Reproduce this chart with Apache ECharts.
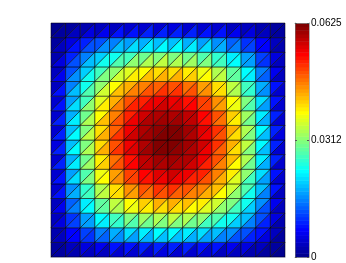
<!DOCTYPE html>
<html><head><meta charset="utf-8">
<script src="https://cdn.jsdelivr.net/npm/echarts@6/dist/echarts.min.js"></script>
<style>html,body{margin:0;padding:0;background:#fff}#c{width:346px;height:263px}</style>
</head><body><div id="c"></div>
<script>
// Node values of the 17x17 mesh (row = y from bottom, column = x from left)
const row0 = [0,0,0,0,0,0,0,0,0,0,0,0,0,0,0,0,0];
const row1 = [0,.00343,.00641,.00893,.01099,.01259,.01373,.01442,.01465,.01442,.01373,.01259,.01099,.00893,.00641,.00343,0];
const row2 = [0,.00641,.01196,.01666,.02051,.02350,.02563,.02692,.02734,.02692,.02563,.02350,.02051,.01666,.01196,.00641,0];
const row3 = [0,.00893,.01666,.02321,.02856,.03273,.03571,.03749,.03809,.03749,.03571,.03273,.02856,.02321,.01666,.00893,0];
const row4 = [0,.01099,.02051,.02856,.03516,.04028,.04395,.04614,.04688,.04614,.04395,.04028,.03516,.02856,.02051,.01099,0];
const row5 = [0,.01259,.02350,.03273,.04028,.04616,.05035,.05287,.05371,.05287,.05035,.04616,.04028,.03273,.02350,.01259,0];
const row6 = [0,.01373,.02563,.03571,.04395,.05035,.05493,.05768,.05859,.05768,.05493,.05035,.04395,.03571,.02563,.01373,0];
const row7 = [0,.01442,.02692,.03749,.04614,.05287,.05768,.06056,.06152,.06056,.05768,.05287,.04614,.03749,.02692,.01442,0];
const row8 = [0,.01465,.02734,.03809,.04688,.05371,.05859,.06152,.06250,.06152,.05859,.05371,.04688,.03809,.02734,.01465,0];
const nodeValues = [row0,row1,row2,row3,row4,row5,row6,row7,row8,row7,row6,row5,row4,row3,row2,row1,row0];

const colorMin = 0, colorMax = 0.0625;
const colorLevels = 64;
const colorbarTickValues = [0, 0.03125, 0.0625];
const colorbarTickLabels = ['0', '0.0312', '0.0625'];

function jet(m){
  const n = Math.ceil(m/4);
  const u = [];
  for(let i=1;i<=n;i++) u.push(i/n);
  for(let i=1;i<n;i++) u.push(1);
  for(let i=n;i>=1;i--) u.push(i/n);
  const g0 = Math.ceil(n/2) - (m%4===1?1:0);
  const cols = Array.from({length:m},()=>[0,0,0]);
  for(let k=0;k<u.length;k++){
    const g = g0 + k + 1, r = g + n, b = g - n;
    if(r>=1 && r<=m) cols[r-1][0]=u[k];
    if(g>=1 && g<=m) cols[g-1][1]=u[k];
    if(b>=1 && b<=m) cols[b-1][2]=u[k];
  }
  return cols.map(c=>'rgb('+c.map(v=>Math.round(v*255)).join(',')+')');
}
const cmap = jet(colorLevels);
const step = (colorMax-colorMin)/colorLevels;
const pieces = cmap.map((c,k)=> k===colorLevels-1
  ? {gte: colorMin+k*step, lte: colorMax+1, color:c}
  : {gte: colorMin+k*step, lt: colorMin+(k+1)*step, color:c});

const nCells = nodeValues.length-1;
const triData = [];
for(let j=0;j<nCells;j++) for(let i=0;i<nCells;i++){
  const v00=nodeValues[j][i], v10=nodeValues[j][i+1], v01=nodeValues[j+1][i], v11=nodeValues[j+1][i+1];
  triData.push([i, j, 0, (v00+v01+v11)/3]);
  triData.push([i, j, 1, (v00+v10+v11)/3]);
}
const barData = cmap.map((c,k)=>[k, colorMin+k*step, colorMin+(k+1)*step, colorMin+(k+0.5)*step]);

const font = 'Liberation Sans, Arial, Helvetica, sans-serif';
const chart = echarts.init(document.getElementById('c'), null, {renderer:'canvas'});
chart.setOption({
  animation:false,
  backgroundColor:'#fff',
  grid:[
    {left:51, top:23, width:234, height:234},
    {left:295, top:23, width:14, height:234}
  ],
  xAxis:[
    {gridIndex:0, type:'value', min:0, max:nCells, show:true, axisLine:{show:true, onZero:false, lineStyle:{color:'#a0a0b4', width:1}}, axisTick:{show:false}, axisLabel:{show:false}, splitLine:{show:false}, z:10},
    {gridIndex:1, type:'value', min:0, max:1, position:'bottom', axisLine:{show:true, onZero:false, lineStyle:{color:'#777', width:0.6}}, axisTick:{show:false}, axisLabel:{show:false}, splitLine:{show:false}, z:10},
    {gridIndex:1, type:'value', min:0, max:1, position:'top', axisLine:{show:true, onZero:false, lineStyle:{color:'#888', width:0.8}}, axisTick:{show:false}, axisLabel:{show:false}, splitLine:{show:false}, z:10}
  ],
  yAxis:[
    {gridIndex:0, type:'value', min:0, max:nCells, show:false},
    {gridIndex:1, type:'value', min:colorMin, max:colorMax, position:'right',
      axisLine:{show:true, onZero:false, lineStyle:{color:'#777', width:0.6}},
      axisTick:{show:true, inside:true, length:2, customValues:colorbarTickValues, lineStyle:{color:'#555'}},
      axisLabel:{show:true, customValues:colorbarTickValues, margin:2, fontSize:10, fontFamily:font, color:'#000',
        formatter:(v)=>{const i=colorbarTickValues.indexOf(v); return i>=0?colorbarTickLabels[i]:'';}},
      splitLine:{show:false}, z:10},
    {gridIndex:1, type:'value', min:colorMin, max:colorMax, position:'left',
      axisLine:{show:true, onZero:false, lineStyle:{color:'#777', width:0.6}},
      axisTick:{show:true, inside:true, length:2, customValues:colorbarTickValues, lineStyle:{color:'#555'}},
      axisLabel:{show:false}, splitLine:{show:false}, z:10}
  ],
  visualMap:{type:'piecewise', show:false, dimension:3, seriesIndex:[0,1], pieces:pieces},
  series:[
    {type:'custom', xAxisIndex:0, yAxisIndex:0, data:triData, encode:{x:0,y:1},
      renderItem:(params, api)=>{
        const i=api.value(0), j=api.value(1), t=api.value(2);
        const pts = t===0 ? [[i,j],[i,j+1],[i+1,j+1]] : [[i,j],[i+1,j],[i+1,j+1]];
        return {type:'polygon', shape:{points:pts.map(p=>api.coord(p))},
          style:{fill:api.visual('color'), stroke:'rgba(0,0,0,0.75)', lineWidth:0.7}};
      }},
    {type:'custom', xAxisIndex:1, yAxisIndex:1, data:barData, encode:{x:0,y:3},
      renderItem:(params, api)=>{
        const p0 = api.coord([0, api.value(1)]), p1 = api.coord([1, api.value(2)]);
        return {type:'rect', shape:{x:p0[0], y:p1[1], width:p1[0]-p0[0], height:p0[1]-p1[1]+0.5},
          style:{fill:api.visual('color')}};
      }}
  ]
});
</script></body></html>
